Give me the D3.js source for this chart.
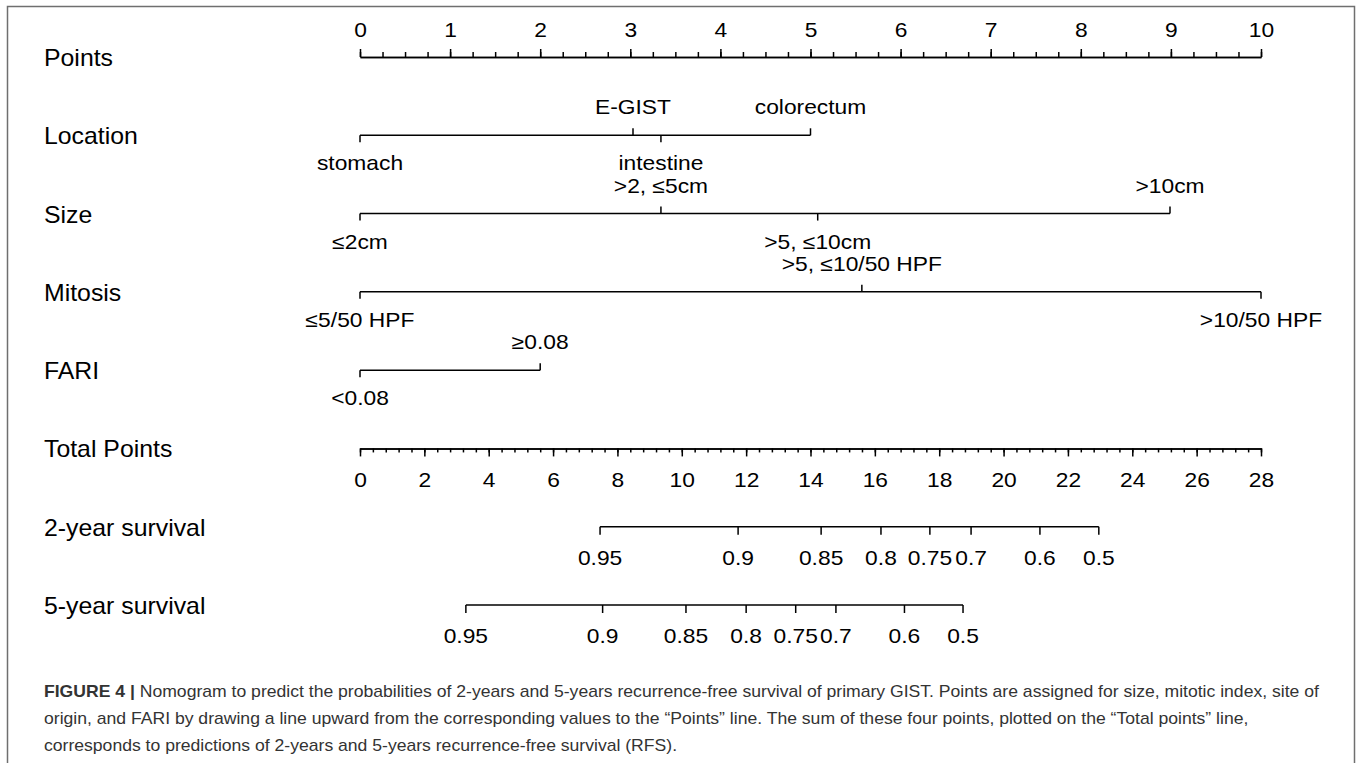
<!DOCTYPE html>
<html>
<head>
<meta charset="utf-8">
<script src="https://cdn.jsdelivr.net/npm/d3@7"></script>
<style>
  body { margin: 0; background: #fff; }
  svg text { font-family: 'Liberation Sans', Arial, sans-serif; }
</style>
</head>
<body>
<svg id="canvas" width="1357" height="763"></svg>
<script>
// row names, top to bottom
let rowNames = ['Points', 'Location', 'Size', 'Mitosis', 'FARI', 'Total Points', '2-year survival', '5-year survival'];

// points scale
let pointTicks = [0, 1, 2, 3, 4, 5, 6, 7, 8, 9, 10];

// predictors: level names and their points
let locationNames = ['stomach', 'E-GIST', 'intestine', 'colorectum'];
let locationPoints = [0, 3.03, 3.34, 5.0];
let sizeNames = ['≤2cm', '>2, ≤5cm', '>5, ≤10cm', '>10cm'];
let sizePoints = [0, 3.34, 5.08, 8.99];
let mitosisNames = ['≤5/50 HPF', '>5, ≤10/50 HPF', '>10/50 HPF'];
let mitosisPoints = [0, 5.57, 10];
let fariNames = ['<0.08', '≥0.08'];
let fariPoints = [0, 2.0];

// total points scale
let totalTicks = [0, 2, 4, 6, 8, 10, 12, 14, 16, 18, 20, 22, 24, 26, 28];

// survival probabilities and where they fall on total points
let surv2Labels = ['0.95', '0.9', '0.85', '0.8', '0.75', '0.7', '0.6', '0.5'];
let surv2Total = [7.46, 11.75, 14.33, 16.19, 17.71, 18.99, 21.13, 22.96];
let surv5Labels = ['0.95', '0.9', '0.85', '0.8', '0.75', '0.7', '0.6', '0.5'];
let surv5Total = [3.29, 7.54, 10.13, 12.0, 13.54, 14.79, 16.92, 18.74];

let captionLines = [
  ['FIGURE 4 | ', 'Nomogram to predict the probabilities of 2-years and 5-years recurrence-free survival of primary GIST. Points are assigned for size, mitotic index, site of'],
  ['', 'origin, and FARI by drawing a line upward from the corresponding values to the \u201cPoints\u201d line. The sum of these four points, plotted on the \u201cTotal points\u201d line,'],
  ['', 'corresponds to predictions of 2-years and 5-years recurrence-free survival (RFS).']
];

let canvas = d3.select('#canvas');

let xPts = d3.scaleLinear().domain([0, 10]).range([360, 1261]);
let xTot = d3.scaleLinear().domain([0, 28]).range([360, 1261]);
let rowY = d3.scalePoint().domain(rowNames).range([57, 605]);

// the figure is a little wider than tall, so text is stretched sideways
let labelSize = 23;
let labelStretch = 1.08;
let tickSize = 20;
let tickStretch = 1.14;

let place = (x, y, sx) => 'translate(' + x + ',' + y + ') scale(' + sx + ',1)';

// frame
canvas.append('rect').
attr('x', 7.5).attr('y', 6.5).
attr('width', 1347).attr('height', 800).
attr('fill', 'none').
attr('stroke', '#6f6f6f').
attr('stroke-width', 1.5);

// row labels
canvas.selectAll('.rowname').
data(rowNames).
enter().
append('text').
attr('class', 'rowname').
attr('transform', name => place(44, rowY(name) + 1, labelStretch)).
attr('dy', '0.35em').
attr('font-size', labelSize).
attr('fill', '#000').
text(name => name);

let styleAxis = (g) => {
  g.select('.domain').attr('stroke', '#000').attr('stroke-width', 1.5);
  g.selectAll('.tick line').attr('stroke', '#000').attr('stroke-width', 1.5);
  g.selectAll('.tick text').
  attr('font-size', tickSize).
  attr('font-family', "'Liberation Sans', Arial, sans-serif").
  attr('transform', 'scale(' + tickStretch + ',1)').
  attr('fill', '#000');
};

// Points axis: minor ticks then major ticks with labels
canvas.append('g').
attr('transform', 'translate(0,' + rowY('Points') + ')').
call(d3.axisTop(xPts).
tickValues(d3.range(0, 10.001, 0.25)).
tickSize(5).tickSizeOuter(0).tickFormat('')).
call(styleAxis);

canvas.append('g').
attr('transform', 'translate(0,' + rowY('Points') + ')').
call(d3.axisTop(xPts).
tickValues(pointTicks).
tickSize(8).tickSizeOuter(0).tickPadding(12).
tickFormat(d3.format('d'))).
call(styleAxis);

// Total Points axis
canvas.append('g').
attr('transform', 'translate(0,' + rowY('Total Points') + ')').
call(d3.axisBottom(xTot).
tickValues(d3.range(0, 28.001, 0.4)).
tickSize(4).tickSizeOuter(0).tickFormat('')).
call(styleAxis);

canvas.append('g').
attr('transform', 'translate(0,' + rowY('Total Points') + ')').
call(d3.axisBottom(xTot).
tickValues(totalTicks).
tickSize(8).tickSizeOuter(0).tickPadding(16).
tickFormat(d3.format('d'))).
call(styleAxis);

// predictor rows: labels alternate below / above the line
let drawPredictor = (row, names, points) => {
  let y = rowY(row);
  let g = canvas.append('g');
  let levels = names.map((name, i) => ({ name: name, value: points[i], dir: i % 2 === 0 ? 1 : -1 }));

  g.append('line').
  attr('x1', xPts(d3.min(points))).
  attr('x2', xPts(d3.max(points))).
  attr('y1', y).attr('y2', y).
  attr('stroke', '#000').
  attr('stroke-width', 1.5);

  g.selectAll('.tick').
  data(levels).
  enter().
  append('line').
  attr('x1', d => xPts(d.value)).
  attr('x2', d => xPts(d.value)).
  attr('y1', y).
  attr('y2', d => y + d.dir * 7).
  attr('stroke', '#000').
  attr('stroke-width', 1.5);

  g.selectAll('.lvl').
  data(levels).
  enter().
  append('text').
  attr('transform', d => place(xPts(d.value), y + d.dir * 28, tickStretch)).
  attr('dy', '0.35em').
  attr('text-anchor', 'middle').
  attr('font-size', tickSize).
  attr('fill', '#000').
  text(d => d.name);
};

drawPredictor('Location', locationNames, locationPoints);
drawPredictor('Size', sizeNames, sizePoints);
drawPredictor('Mitosis', mitosisNames, mitosisPoints);
drawPredictor('FARI', fariNames, fariPoints);

// survival rows, placed by total points
let drawSurvival = (row, labels, totals) => {
  let y = rowY(row);
  let g = canvas.append('g');

  g.append('line').
  attr('x1', xTot(d3.min(totals))).
  attr('x2', xTot(d3.max(totals))).
  attr('y1', y).attr('y2', y).
  attr('stroke', '#000').
  attr('stroke-width', 1.5);

  g.selectAll('.tick').
  data(totals).
  enter().
  append('line').
  attr('x1', t => xTot(t)).
  attr('x2', t => xTot(t)).
  attr('y1', y).
  attr('y2', y + 8).
  attr('stroke', '#000').
  attr('stroke-width', 1.5);

  g.selectAll('.lbl').
  data(totals).
  enter().
  append('text').
  attr('transform', t => place(xTot(t), y + 31, tickStretch)).
  attr('dy', '0.35em').
  attr('text-anchor', 'middle').
  attr('font-size', tickSize).
  attr('fill', '#000').
  text((t, i) => labels[i]);
};

drawSurvival('2-year survival', surv2Labels, surv2Total);
drawSurvival('5-year survival', surv5Labels, surv5Total);

// caption
let caption = canvas.append('g');
captionLines.forEach((parts, i) => {
  let t = caption.append('text').
  attr('transform', place(44, 697 + i * 27, 1.1)).
  attr('font-size', 16).
  attr('fill', '#333');
  if (parts[0]) {
    t.append('tspan').attr('font-weight', 'bold').text(parts[0]);
  }
  t.append('tspan').text(parts[1]);
});
</script>
</body>
</html>
